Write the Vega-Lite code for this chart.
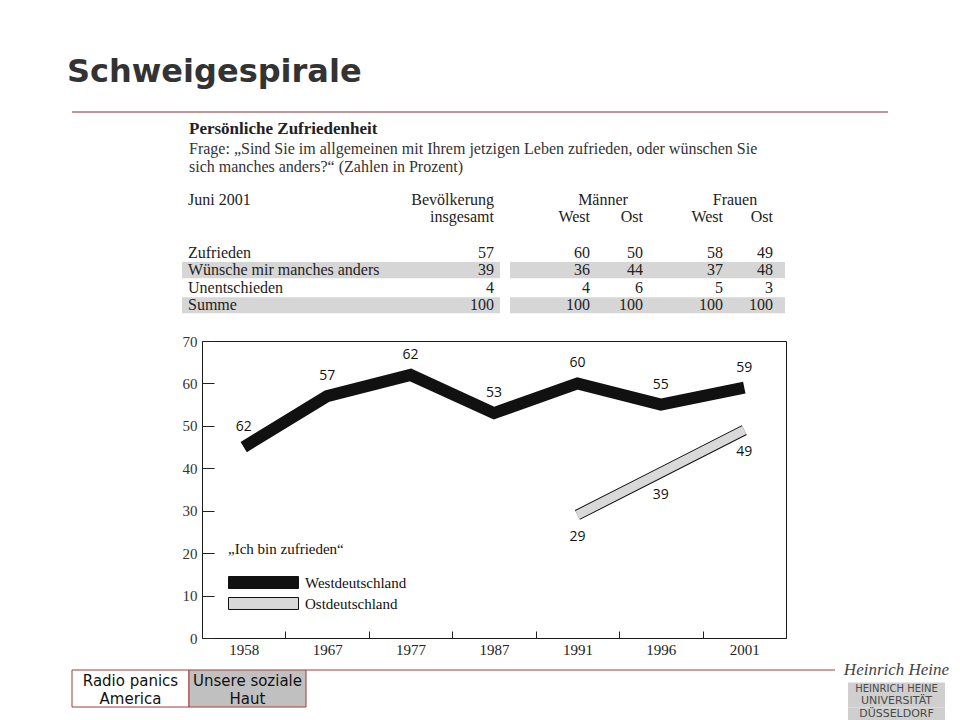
{
  "$schema": "https://vega.github.io/schema/vega-lite/v6.json",
  "background": "#ffffff",
  "padding": {"left": 67, "top": 55, "right": 10, "bottom": 0},
  "autosize": {"type": "pad"},
  "title": {"text": "Schweigespirale", "anchor": "start", "frame": "group", "dx": -5, "offset": 23, "font": "DejaVu Sans", "fontSize": 32, "fontWeight": "bold", "color": "#333333"},
  "config": {"view": {"stroke": null}, "font": "Liberation Serif"},
  "datasets": {
    "zeitreihe": [
      {"Jahr": "1958", "Region": "Westdeutschland", "Wert": 45, "Beschriftung": "62"},
      {"Jahr": "1967", "Region": "Westdeutschland", "Wert": 57, "Beschriftung": "57"},
      {"Jahr": "1977", "Region": "Westdeutschland", "Wert": 62, "Beschriftung": "62"},
      {"Jahr": "1987", "Region": "Westdeutschland", "Wert": 53, "Beschriftung": "53"},
      {"Jahr": "1991", "Region": "Westdeutschland", "Wert": 60, "Beschriftung": "60"},
      {"Jahr": "1996", "Region": "Westdeutschland", "Wert": 55, "Beschriftung": "55"},
      {"Jahr": "2001", "Region": "Westdeutschland", "Wert": 59, "Beschriftung": "59"},
      {"Jahr": "1991", "Region": "Ostdeutschland", "Wert": 29, "Beschriftung": "29"},
      {"Jahr": "1996", "Region": "Ostdeutschland", "Wert": 39, "Beschriftung": "39"},
      {"Jahr": "2001", "Region": "Ostdeutschland", "Wert": 49, "Beschriftung": "49"}
    ],
    "tabelle": [
      {"Antwort": "Zufrieden", "Spalte": "Bevölkerung insgesamt", "Wert": 57},
      {"Antwort": "Zufrieden", "Spalte": "Männer West", "Wert": 60},
      {"Antwort": "Zufrieden", "Spalte": "Männer Ost", "Wert": 50},
      {"Antwort": "Zufrieden", "Spalte": "Frauen West", "Wert": 58},
      {"Antwort": "Zufrieden", "Spalte": "Frauen Ost", "Wert": 49},
      {"Antwort": "Wünsche mir manches anders", "Spalte": "Bevölkerung insgesamt", "Wert": 39},
      {"Antwort": "Wünsche mir manches anders", "Spalte": "Männer West", "Wert": 36},
      {"Antwort": "Wünsche mir manches anders", "Spalte": "Männer Ost", "Wert": 44},
      {"Antwort": "Wünsche mir manches anders", "Spalte": "Frauen West", "Wert": 37},
      {"Antwort": "Wünsche mir manches anders", "Spalte": "Frauen Ost", "Wert": 48},
      {"Antwort": "Unentschieden", "Spalte": "Bevölkerung insgesamt", "Wert": 4},
      {"Antwort": "Unentschieden", "Spalte": "Männer West", "Wert": 4},
      {"Antwort": "Unentschieden", "Spalte": "Männer Ost", "Wert": 6},
      {"Antwort": "Unentschieden", "Spalte": "Frauen West", "Wert": 5},
      {"Antwort": "Unentschieden", "Spalte": "Frauen Ost", "Wert": 3},
      {"Antwort": "Summe", "Spalte": "Bevölkerung insgesamt", "Wert": 100},
      {"Antwort": "Summe", "Spalte": "Männer West", "Wert": 100},
      {"Antwort": "Summe", "Spalte": "Männer Ost", "Wert": 100},
      {"Antwort": "Summe", "Spalte": "Frauen West", "Wert": 100},
      {"Antwort": "Summe", "Spalte": "Frauen Ost", "Wert": 100}
    ],
    "kopf": [
      {"Zeile": "k1", "Spalte": "Antwort", "Text": "Juni 2001"},
      {"Zeile": "k1", "Spalte": "Bevölkerung insgesamt", "Text": "Bevölkerung"},
      {"Zeile": "k2", "Spalte": "Bevölkerung insgesamt", "Text": "insgesamt"},
      {"Zeile": "k1", "Spalte": "Männer", "Text": "Männer"},
      {"Zeile": "k2", "Spalte": "Männer West", "Text": "West"},
      {"Zeile": "k2", "Spalte": "Männer Ost", "Text": "Ost"},
      {"Zeile": "k1", "Spalte": "Frauen", "Text": "Frauen"},
      {"Zeile": "k2", "Spalte": "Frauen West", "Text": "West"},
      {"Zeile": "k2", "Spalte": "Frauen Ost", "Text": "Ost"}
    ],
    "themen": [
      {"Thema": "Radio panics America", "Text": "Radio panics\nAmerica"},
      {"Thema": "Unsere soziale Haut", "Text": "Unsere soziale\nHaut"}
    ],
    "logo": [
      {"Zeile": "sig", "Text": "Heinrich Heine"},
      {"Zeile": "HEINRICH HEINE", "Text": "HEINRICH HEINE"},
      {"Zeile": "UNIVERSITÄT", "Text": "UNIVERSITÄT"},
      {"Zeile": "DÜSSELDORF", "Text": "DÜSSELDORF"}
    ],
    "linie": [{"Element": "Trennlinie"}]
  },
  "spacing": 0,
  "bounds": "full",
  "vconcat": [
    {
      "width": 816, "height": 8,
      "data": {"name": "linie"},
      "mark": {"type": "rule", "color": "#8c2a2a", "strokeWidth": 1},
      "encoding": {
        "y": {"datum": 1, "type": "quantitative", "scale": {"domain": [0, 1]}, "axis": null}
      }
    },
    {
      "spacing": 0,
      "bounds": "flush",
      "hconcat": [
        {"width": 110, "height": 123, "data": {"values": []}, "mark": "point"},
        {
          "width": 238, "height": 123,
          "title": {"text": "Persönliche Zufriedenheit", "subtitle": ["Frage: „Sind Sie im allgemeinen mit Ihrem jetzigen Leben zufrieden, oder wünschen Sie", "sich manches anders?“ (Zahlen in Prozent)"], "anchor": "start", "frame": "group", "dx": 7, "offset": 15, "font": "Liberation Serif", "fontSize": 17, "fontWeight": "bold", "color": "#222222", "subtitleFont": "Liberation Serif", "subtitleFontSize": 16, "subtitleColor": "#333333", "subtitlePadding": 3, "subtitleLineHeight": 18},
          "layer": [
            {"data": {"name": "tabelle"}, "transform": [{"filter": "datum.Spalte === 'Bevölkerung insgesamt' && (datum.Antwort === 'Wünsche mir manches anders' || datum.Antwort === 'Summe')"}], "mark": {"type": "bar", "color": "#d6d6d6", "height": {"band": 0.92}}, "encoding": {"y": {"field": "Antwort", "type": "nominal", "scale": {"domain": ["k1", "k2", "leer", "Zufrieden", "Wünsche mir manches anders", "Unentschieden", "Summe"], "paddingInner": 0, "paddingOuter": 0}, "axis": null}}},
            {"data": {"name": "tabelle"}, "transform": [{"filter": "datum.Spalte === 'Bevölkerung insgesamt'"}], "mark": {"type": "text", "align": "left", "dx": 6, "font": "Liberation Serif", "fontSize": 16, "color": "#222222"}, "encoding": {"x": {"value": 0}, "y": {"field": "Antwort", "type": "nominal", "axis": null}, "text": {"field": "Antwort"}}},
            {"data": {"name": "kopf"}, "transform": [{"filter": "datum.Spalte === 'Antwort'"}], "mark": {"type": "text", "align": "left", "dx": 6, "font": "Liberation Serif", "fontSize": 16, "color": "#222222"}, "encoding": {"x": {"value": 0}, "y": {"field": "Zeile", "type": "nominal", "axis": null}, "text": {"field": "Text"}}}
          ]
        },
        {
          "width": 74, "height": 123,
          "layer": [
            {"data": {"name": "tabelle"}, "transform": [{"filter": "datum.Spalte === 'Bevölkerung insgesamt' && (datum.Antwort === 'Wünsche mir manches anders' || datum.Antwort === 'Summe')"}], "mark": {"type": "bar", "color": "#d6d6d6", "height": {"band": 0.92}}, "encoding": {"y": {"field": "Antwort", "type": "nominal", "scale": {"domain": ["k1", "k2", "leer", "Zufrieden", "Wünsche mir manches anders", "Unentschieden", "Summe"], "paddingInner": 0, "paddingOuter": 0}, "axis": null}}},
            {"data": {"name": "tabelle"}, "transform": [{"filter": "datum.Spalte === 'Bevölkerung insgesamt'"}], "mark": {"type": "text", "align": "right", "font": "Liberation Serif", "fontSize": 16, "color": "#222222"}, "encoding": {"x": {"value": "width"}, "y": {"field": "Antwort", "type": "nominal", "axis": null}, "text": {"field": "Wert", "type": "quantitative"}}},
            {"data": {"name": "kopf"}, "transform": [{"filter": "datum.Spalte === 'Bevölkerung insgesamt'"}], "mark": {"type": "text", "align": "right", "font": "Liberation Serif", "fontSize": 16, "color": "#222222"}, "encoding": {"x": {"value": "width"}, "y": {"field": "Zeile", "type": "nominal", "axis": null}, "text": {"field": "Text"}}}
          ]
        },
        {"width": 6, "height": 123, "data": {"name": "tabelle"}, "transform": [{"filter": "datum.Spalte === 'Bevölkerung insgesamt' && (datum.Antwort === 'Wünsche mir manches anders' || datum.Antwort === 'Summe')"}], "mark": {"type": "bar", "color": "#d6d6d6", "height": {"band": 0.92}}, "encoding": {"y": {"field": "Antwort", "type": "nominal", "scale": {"domain": ["k1", "k2", "leer", "Zufrieden", "Wünsche mir manches anders", "Unentschieden", "Summe"], "paddingInner": 0, "paddingOuter": 0}, "axis": null}}},
        {"width": 10, "height": 123, "data": {"values": []}, "mark": "point"},
        {
          "width": 80, "height": 123,
          "layer": [
            {"data": {"name": "tabelle"}, "transform": [{"filter": "datum.Spalte === 'Bevölkerung insgesamt' && (datum.Antwort === 'Wünsche mir manches anders' || datum.Antwort === 'Summe')"}], "mark": {"type": "bar", "color": "#d6d6d6", "height": {"band": 0.92}}, "encoding": {"y": {"field": "Antwort", "type": "nominal", "scale": {"domain": ["k1", "k2", "leer", "Zufrieden", "Wünsche mir manches anders", "Unentschieden", "Summe"], "paddingInner": 0, "paddingOuter": 0}, "axis": null}}},
            {"data": {"name": "tabelle"}, "transform": [{"filter": "datum.Spalte === 'Männer West'"}], "mark": {"type": "text", "align": "right", "font": "Liberation Serif", "fontSize": 16, "color": "#222222"}, "encoding": {"x": {"value": "width"}, "y": {"field": "Antwort", "type": "nominal", "axis": null}, "text": {"field": "Wert", "type": "quantitative"}}},
            {"data": {"name": "kopf"}, "transform": [{"filter": "datum.Spalte === 'Männer West'"}], "mark": {"type": "text", "align": "right", "font": "Liberation Serif", "fontSize": 16, "color": "#222222"}, "encoding": {"x": {"value": "width"}, "y": {"field": "Zeile", "type": "nominal", "axis": null}, "text": {"field": "Text"}}}
          ]
        },
        {
          "width": 53, "height": 123,
          "layer": [
            {"data": {"name": "tabelle"}, "transform": [{"filter": "datum.Spalte === 'Bevölkerung insgesamt' && (datum.Antwort === 'Wünsche mir manches anders' || datum.Antwort === 'Summe')"}], "mark": {"type": "bar", "color": "#d6d6d6", "height": {"band": 0.92}}, "encoding": {"y": {"field": "Antwort", "type": "nominal", "scale": {"domain": ["k1", "k2", "leer", "Zufrieden", "Wünsche mir manches anders", "Unentschieden", "Summe"], "paddingInner": 0, "paddingOuter": 0}, "axis": null}}},
            {"data": {"name": "tabelle"}, "transform": [{"filter": "datum.Spalte === 'Männer Ost'"}], "mark": {"type": "text", "align": "right", "font": "Liberation Serif", "fontSize": 16, "color": "#222222"}, "encoding": {"x": {"value": "width"}, "y": {"field": "Antwort", "type": "nominal", "axis": null}, "text": {"field": "Wert", "type": "quantitative"}}},
            {"data": {"name": "kopf"}, "transform": [{"filter": "datum.Spalte === 'Männer Ost'"}], "mark": {"type": "text", "align": "right", "font": "Liberation Serif", "fontSize": 16, "color": "#222222"}, "encoding": {"x": {"value": "width"}, "y": {"field": "Zeile", "type": "nominal", "axis": null}, "text": {"field": "Text"}}},
            {"data": {"name": "kopf"}, "transform": [{"filter": "datum.Spalte === 'Männer'"}], "mark": {"type": "text", "align": "center", "dx": 13, "font": "Liberation Serif", "fontSize": 16, "color": "#222222"}, "encoding": {"x": {"value": 0}, "y": {"field": "Zeile", "type": "nominal", "axis": null}, "text": {"field": "Text"}}}
          ]
        },
        {
          "width": 80, "height": 123,
          "layer": [
            {"data": {"name": "tabelle"}, "transform": [{"filter": "datum.Spalte === 'Bevölkerung insgesamt' && (datum.Antwort === 'Wünsche mir manches anders' || datum.Antwort === 'Summe')"}], "mark": {"type": "bar", "color": "#d6d6d6", "height": {"band": 0.92}}, "encoding": {"y": {"field": "Antwort", "type": "nominal", "scale": {"domain": ["k1", "k2", "leer", "Zufrieden", "Wünsche mir manches anders", "Unentschieden", "Summe"], "paddingInner": 0, "paddingOuter": 0}, "axis": null}}},
            {"data": {"name": "tabelle"}, "transform": [{"filter": "datum.Spalte === 'Frauen West'"}], "mark": {"type": "text", "align": "right", "font": "Liberation Serif", "fontSize": 16, "color": "#222222"}, "encoding": {"x": {"value": "width"}, "y": {"field": "Antwort", "type": "nominal", "axis": null}, "text": {"field": "Wert", "type": "quantitative"}}},
            {"data": {"name": "kopf"}, "transform": [{"filter": "datum.Spalte === 'Frauen West'"}], "mark": {"type": "text", "align": "right", "font": "Liberation Serif", "fontSize": 16, "color": "#222222"}, "encoding": {"x": {"value": "width"}, "y": {"field": "Zeile", "type": "nominal", "axis": null}, "text": {"field": "Text"}}}
          ]
        },
        {
          "width": 50, "height": 123,
          "layer": [
            {"data": {"name": "tabelle"}, "transform": [{"filter": "datum.Spalte === 'Bevölkerung insgesamt' && (datum.Antwort === 'Wünsche mir manches anders' || datum.Antwort === 'Summe')"}], "mark": {"type": "bar", "color": "#d6d6d6", "height": {"band": 0.92}}, "encoding": {"y": {"field": "Antwort", "type": "nominal", "scale": {"domain": ["k1", "k2", "leer", "Zufrieden", "Wünsche mir manches anders", "Unentschieden", "Summe"], "paddingInner": 0, "paddingOuter": 0}, "axis": null}}},
            {"data": {"name": "tabelle"}, "transform": [{"filter": "datum.Spalte === 'Frauen Ost'"}], "mark": {"type": "text", "align": "right", "font": "Liberation Serif", "fontSize": 16, "color": "#222222"}, "encoding": {"x": {"value": "width"}, "y": {"field": "Antwort", "type": "nominal", "axis": null}, "text": {"field": "Wert", "type": "quantitative"}}},
            {"data": {"name": "kopf"}, "transform": [{"filter": "datum.Spalte === 'Frauen Ost'"}], "mark": {"type": "text", "align": "right", "font": "Liberation Serif", "fontSize": 16, "color": "#222222"}, "encoding": {"x": {"value": "width"}, "y": {"field": "Zeile", "type": "nominal", "axis": null}, "text": {"field": "Text"}}},
            {"data": {"name": "kopf"}, "transform": [{"filter": "datum.Spalte === 'Frauen'"}], "mark": {"type": "text", "align": "center", "dx": 12, "font": "Liberation Serif", "fontSize": 16, "color": "#222222"}, "encoding": {"x": {"value": 0}, "y": {"field": "Zeile", "type": "nominal", "axis": null}, "text": {"field": "Text"}}}
          ]
        },
        {"width": 12, "height": 123, "data": {"name": "tabelle"}, "transform": [{"filter": "datum.Spalte === 'Bevölkerung insgesamt' && (datum.Antwort === 'Wünsche mir manches anders' || datum.Antwort === 'Summe')"}], "mark": {"type": "bar", "color": "#d6d6d6", "height": {"band": 0.92}}, "encoding": {"y": {"field": "Antwort", "type": "nominal", "scale": {"domain": ["k1", "k2", "leer", "Zufrieden", "Wünsche mir manches anders", "Unentschieden", "Summe"], "paddingInner": 0, "paddingOuter": 0}, "axis": null}}}
      ]
    },
    {"width": 1, "height": 19, "data": {"values": []}, "mark": "point"},
    {
      "spacing": 0,
      "bounds": "flush",
      "hconcat": [
        {"width": 130, "height": 297, "data": {"values": []}, "mark": "point"},
        {
          "width": 584, "height": 297,
          "view": {"stroke": "#1a1a1a", "strokeWidth": 1},
          "data": {"name": "zeitreihe"},
          "encoding": {
            "x": {"field": "Jahr", "type": "ordinal", "scale": {"paddingInner": 0, "paddingOuter": 0}, "axis": {"title": null, "domain": false, "grid": false, "labelAngle": 0, "tickBand": "extent", "tickSize": -7, "tickColor": "#222222", "labelPadding": 11, "labelFont": "Liberation Serif", "labelFontSize": 15, "labelColor": "#222222"}},
            "y": {"field": "Wert", "type": "quantitative", "scale": {"domain": [0, 70], "nice": false}, "axis": {"title": null, "domain": false, "grid": false, "values": [0, 10, 20, 30, 40, 50, 60, 70], "tickSize": -12, "tickColor": "#222222", "labelPadding": 17, "labelFont": "Liberation Serif", "labelFontSize": 15, "labelColor": "#333333"}}
          },
          "layer": [
            {"transform": [{"filter": "datum.Region === 'Ostdeutschland'"}], "mark": {"type": "line", "strokeWidth": 11, "strokeCap": "butt", "strokeJoin": "miter"},
             "encoding": {"color": {"field": "Region", "type": "nominal", "scale": {"domain": ["Westdeutschland", "Ostdeutschland"], "range": ["#111111", "#111111"]},
               "legend": {"title": "„Ich bin zufrieden“", "orient": "none", "legendX": 156, "legendY": 430, "padding": 0, "symbolType": "M-5,-0.857H5V0.857H-5Z", "symbolSize": 196, "symbolStrokeWidth": 1, "symbolStrokeColor": "#111111", "labelFont": "Liberation Serif", "labelFontSize": 15, "labelColor": "#111111", "labelOffset": 62, "titleFont": "Liberation Serif", "titleFontSize": 15, "titleFontWeight": "normal", "titleColor": "#111111", "titlePadding": 18, "rowPadding": 4,
                 "encode": {"symbols": {"update": {"x": {"value": 35.5}, "fill": [{"test": "datum.value === 'Ostdeutschland'", "value": "#d9d9d9"}, {"value": "#111111"}]}}}}}}},
            {"transform": [{"filter": "datum.Region === 'Westdeutschland'"}], "mark": {"type": "line", "strokeWidth": 12, "strokeCap": "butt", "strokeJoin": "miter"},
             "encoding": {"color": {"field": "Region", "type": "nominal"}}},
            {"transform": [{"filter": "datum.Region === 'Ostdeutschland'"}], "mark": {"type": "line", "color": "#d9d9d9", "strokeWidth": 9, "strokeCap": "butt", "strokeJoin": "miter"}},
            {"transform": [{"filter": "datum.Region === 'Westdeutschland'"}], "mark": {"type": "text", "dy": -20, "font": "Open Sans", "fontSize": 14, "color": "#111111"}, "encoding": {"text": {"field": "Beschriftung"}}},
            {"transform": [{"filter": "datum.Region === 'Ostdeutschland'"}], "mark": {"type": "text", "dy": 22, "font": "Open Sans", "fontSize": 14, "color": "#111111"}, "encoding": {"text": {"field": "Beschriftung"}}}
          ]
        }
      ]
    },
    {"width": 1, "height": 3, "data": {"values": []}, "mark": "point"},
    {
      "spacing": 0,
      "bounds": "flush",
      "hconcat": [
        {
          "width": 234, "height": 37,
          "data": {"name": "themen"},
          "encoding": {"x": {"field": "Thema", "type": "nominal", "sort": null, "scale": {"paddingInner": 0, "paddingOuter": 0}, "axis": null}},
          "layer": [
            {"mark": {"type": "bar", "stroke": "#a33a3a", "strokeWidth": 1}, "encoding": {"fill": {"field": "Thema", "type": "nominal", "scale": {"domain": ["Radio panics America", "Unsere soziale Haut"], "range": ["#ffffff", "#c0c0c0"]}, "legend": null}}},
            {"mark": {"type": "text", "lineBreak": "\n", "lineHeight": 18, "dy": -8, "font": "DejaVu Sans", "fontSize": 15, "color": "#111111"}, "encoding": {"text": {"field": "Text"}}}
          ]
        },
        {
          "width": 529, "height": 37,
          "data": {"name": "linie"},
          "mark": {"type": "rule", "color": "#a33a3a", "strokeWidth": 1},
          "encoding": {
            "y": {"datum": 1, "type": "quantitative", "scale": {"domain": [0, 1]}, "axis": null}
          }
        },
        {"width": 13, "height": 50, "data": {"values": []}, "mark": "point"},
        {
          "width": 97, "height": 50,
          "data": {"name": "logo"},
          "encoding": {"y": {"field": "Zeile", "type": "nominal", "scale": {"domain": ["sig", "HEINRICH HEINE", "UNIVERSITÄT", "DÜSSELDORF"], "paddingInner": 0, "paddingOuter": 0}, "axis": null}},
          "layer": [
            {"transform": [{"filter": "datum.Zeile !== 'sig'"}], "mark": {"type": "bar", "color": "#cfcfcf"}},
            {"transform": [{"filter": "datum.Zeile === 'HEINRICH HEINE'"}], "mark": {"type": "text", "font": "DejaVu Sans", "fontSize": 10, "color": "#4a4a4a"}, "encoding": {"text": {"field": "Text"}}},
            {"transform": [{"filter": "datum.Zeile === 'UNIVERSITÄT' || datum.Zeile === 'DÜSSELDORF'"}], "mark": {"type": "text", "font": "DejaVu Sans", "fontSize": 11, "color": "#4a4a4a"}, "encoding": {"text": {"field": "Text"}}},
            {"transform": [{"filter": "datum.Zeile === 'sig'"}], "mark": {"type": "text", "dy": -6, "font": "Liberation Serif", "fontStyle": "italic", "fontSize": 17, "color": "#444444"}, "encoding": {"text": {"field": "Text"}}}
          ]
        }
      ]
    }
  ]
}
